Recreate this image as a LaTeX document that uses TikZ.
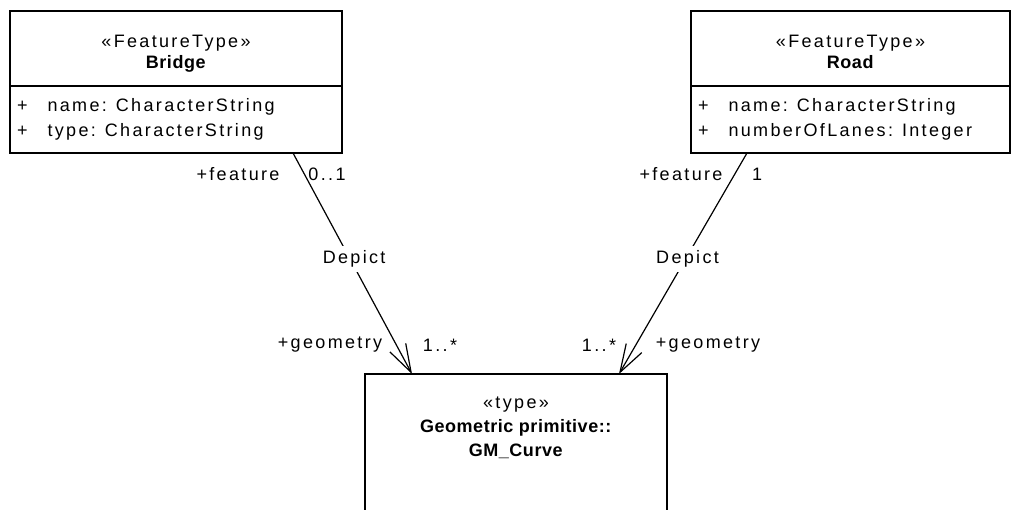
\documentclass[tikz,border=0pt]{standalone}
\usepackage{fontspec}
\setmainfont{Liberation Sans}[LetterSpace=13,BoldFeatures={LetterSpace=3}]
\usetikzlibrary{positioning,arrows.meta}
\newcommand{\headstrut}{\rule{0pt}{25.3pt}}
\begin{document}
\begin{tikzpicture}[x=1pt,y=-1pt,font=\fontsize{18}{21}\selectfont,
				class head/.style = {draw, line width=1.5pt, outer sep=0pt, inner sep=0pt, minimum height=75pt, align=center, anchor=north west},
				class attr/.style = {draw, line width=1.5pt, outer sep=0pt, inner xsep=7pt, inner ysep=0pt, minimum height=67pt, align=left},
				assoc/.style = {line width=1.2pt, -{Straight Barb[length=28pt,width=18pt]}},
				depict/.style = {fill=white, inner xsep=2pt, inner ysep=5pt}]
				
				\clip (0,0) rectangle (1011,510);
				
				\node[class head, minimum width=332pt] (bridge) at (10,11) {\headstrut«FeatureType»\\\textbf{Bridge}\strut};
				\node[class attr, text width=318pt, below=0pt of bridge] (bridgeattr)
				{\begin{tabular}{@{}l@{\hspace{20pt}}l@{}}+ & name: CharacterString\strut\\[4pt] + & type: CharacterString\strut\end{tabular}};
				\node[class head, minimum width=319pt] (road) at (691,11) {\headstrut«FeatureType»\\\textbf{Road}\strut};
				\node[class attr, text width=305pt, below=0pt of road] (roadattr)
				{\begin{tabular}{@{}l@{\hspace{20pt}}l@{}}+ & name: CharacterString\strut\\[4pt] + & numberOfLanes: Integer\strut\end{tabular}};
				\node[class head, minimum width=302pt, minimum height=170pt] (curve) at (365,374) {};
				\node[align=center] (curvename) at ([yshift=-54pt]curve.north) {«type»\\[3pt]\textbf{Geometric primitive::}\\[3pt]\textbf{GM\_Curve}};
				
				\coordinate (bf) at ([xshift=283pt]bridgeattr.south west);
				\coordinate (bg) at ([xshift=47pt]curve.north west);
				\coordinate (rf) at ([xshift=56pt]roadattr.south west);
				\coordinate (rg) at ([xshift=254pt]curve.north west);
				
				\draw[assoc] (bf) -- node[depict, pos=.48, xshift=4pt] {Depict} (bg);
				\draw[assoc] (rf) -- node[depict, pos=.48, xshift=2pt] {Depict} (rg);
				
				\node at (238,174) (bfrole) {+feature};
				\node at (327,174) (bfmult) {0..1};
				\node at (681,174) (rfrole) {+feature};
				\node at (757,174) (rfmult) {1};
				\node at (330,345) (bgrole) {+geometry};
				\node at (440,345) (bgmult) {1..*};
				\node at (599,345) (rgmult) {1..*};
				\node at (708,345) (rgrole) {+geometry};
				\end{tikzpicture}
\end{document}
